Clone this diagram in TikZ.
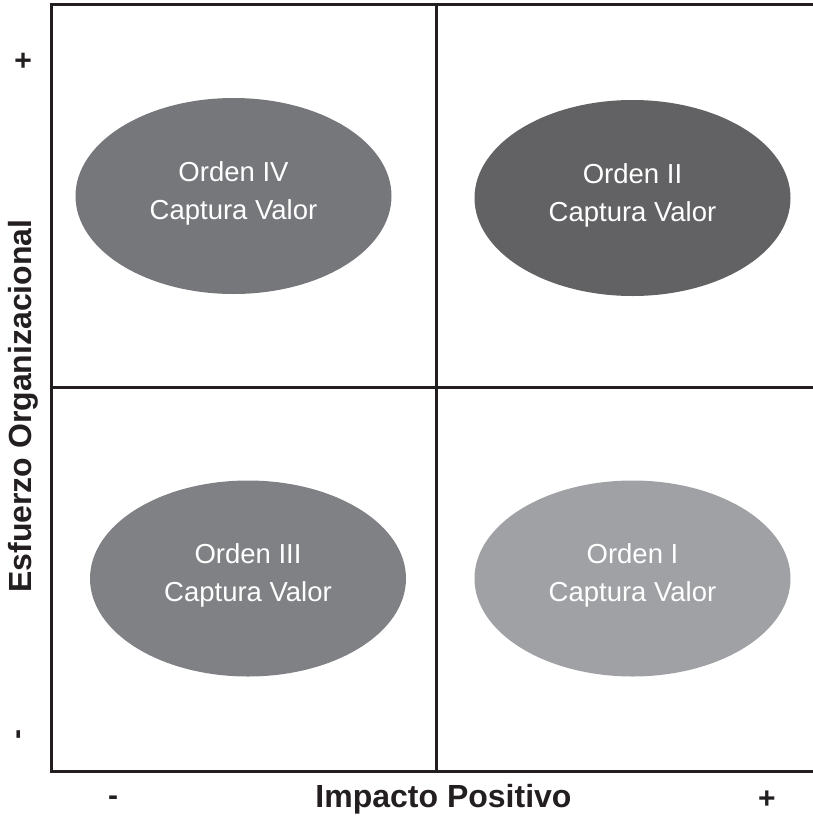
\documentclass[tikz,border=0pt]{standalone}
\usepackage{fontspec}
\setmainfont{Liberation Sans}
\usetikzlibrary{shapes.geometric}
\definecolor{frameink}{RGB}{35,31,32}
\definecolor{fillA}{RGB}{118,119,123}
\definecolor{fillB}{RGB}{98,98,100}
\definecolor{fillC}{RGB}{128,129,133}
\definecolor{fillD}{RGB}{160,161,165}
\begin{document}
\begin{tikzpicture}[x=1pt,y=-1pt,
  axisline/.style={draw=frameink,line width=3pt},
  quadrant/.style={ellipse,draw=none,inner sep=0pt,minimum width=316pt,minimum height=196pt},
  quadtext/.style={text=white,align=center,inner sep=0pt,yshift=3pt,font=\fontsize{27.5}{38}\selectfont},
  axislabel/.style={text=frameink,font=\bfseries\fontsize{32}{36}\selectfont},
  signlabel/.style={text=frameink,font=\bfseries\fontsize{30}{36}\selectfont}]
\useasboundingbox (0,0) rectangle (813,817);
% frame and quadrant dividers
\coordinate (tr) at (813,4.5);
\coordinate (tl) at (51.5,4.5);
\coordinate (bl) at (51.5,771);
\coordinate (br) at (813,771);
\coordinate (vt) at (436,4.5);
\coordinate (vb) at (436,771);
\coordinate (hl) at (51.5,387);
\coordinate (hr) at (813,387);
\draw[axisline] (tr) -- (tl) -- (bl) -- (br);
\draw[axisline] (vt) -- (vb);
\draw[axisline] (hl) -- (hr);
% quadrant ellipses
\node[quadrant,fill=fillA] (q4) at (233.5,196) {};
\node[quadrant,fill=fillB] (q2) at (632.5,198) {};
\node[quadrant,fill=fillC] (q3) at (248,578.5) {};
\node[quadrant,fill=fillD] (q1) at (632.5,578.5) {};
\node[quadtext] (t4) at (q4.center) {Orden IV\\Captura Valor};
\node[quadtext] (t2) at (q2.center) {Orden II\\Captura Valor};
\node[quadtext] (t3) at (q3.center) {Orden III\\Captura Valor};
\node[quadtext] (t1) at (q1.center) {Orden I\\Captura Valor};
% axis titles and signs
\node[axislabel] (xlab) at (443.5,799) {Impacto Positivo};
\node[axislabel,rotate=90] (ylab) at (23,406) {Esfuerzo Organizacional};
\node[signlabel] (xminus) at (113,801) {-};
\node[signlabel] (xplus) at (767,800) {+};
\node[signlabel,rotate=90] (yplus) at (25,61) {+};
\node[signlabel,rotate=90] (yminus) at (22,734) {-};
\end{tikzpicture}
\end{document}
